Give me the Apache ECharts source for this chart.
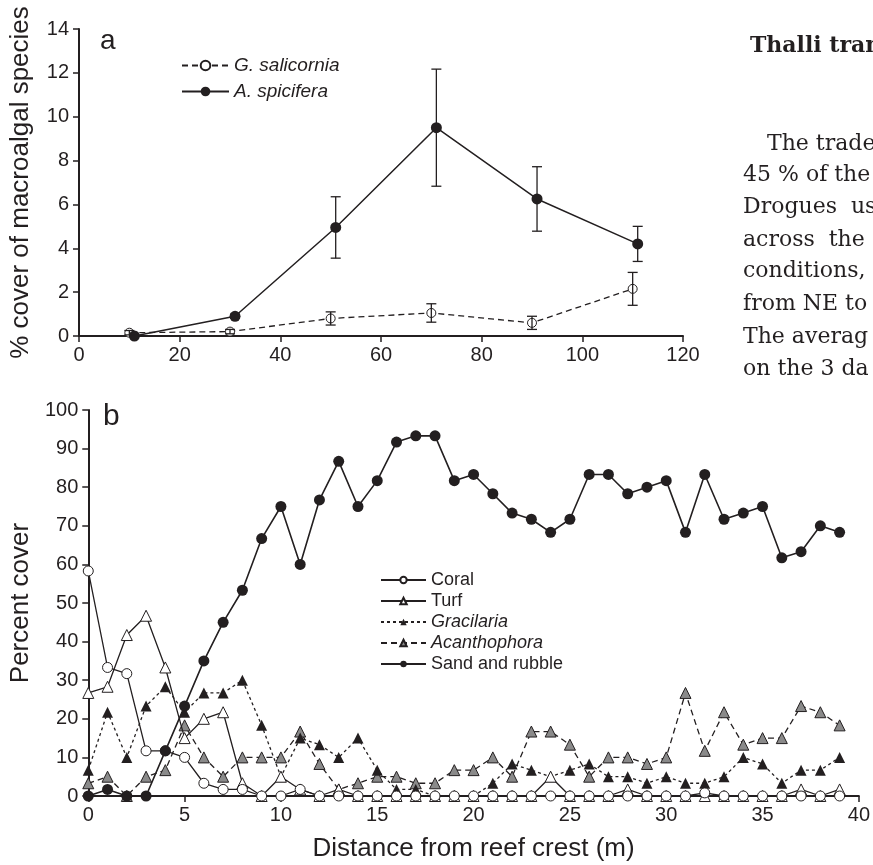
<!DOCTYPE html>
<html>
<head>
<meta charset="utf-8">
<script src="https://cdn.jsdelivr.net/npm/echarts@6/dist/echarts.min.js"></script>
<style>
html,body{margin:0;padding:0;background:#fff;}
#chart{width:873px;height:865px;}
</style>
</head>
<body>
<div id="chart"></div>
<script>
// ---- Panel a data ----
const xGsal = [10, 30, 50, 70, 90, 110];
const gSalicornia = [0.15, 0.2, 0.8, 1.05, 0.6, 2.15];
const gSalicorniaSE = [0.1, 0.1, 0.3, 0.42, 0.3, 0.75];
const xAspi = [11, 31, 51, 71, 91, 111];
const aSpicifera = [0, 0.9, 4.95, 9.5, 6.25, 4.2];
const aSpiciferaSE = [0, 0.1, 1.4, 2.67, 1.47, 0.8];

// ---- Panel b data ----
const distance = [0,1,2,3,4,5,6,7,8,9,10,11,12,13,14,15,16,17,18,19,20,21,22,23,24,25,26,27,28,29,30,31,32,33,34,35,36,37,38,39];
const coral = [58.3,33.3,31.7,11.7,11.7,10,3.3,1.7,1.7,0,0,1.7,0,0,0,0,0,0,0,0,0,0,0,0,0,0,0,0,0,0,0,0,0.8,0,0,0,0,0,0,0];
const turf = [26.7,28.3,41.7,46.7,33.3,15,20,21.7,3.3,0,5,1.7,0,1.7,0,0,0,0,0,0,0,0,0,0,5,0,0,0,1.7,0,0,0,0,0,0,0,0,1.7,0,1.7];
const gracilaria = [6.7,21.7,10,23.3,28.3,21.7,26.7,26.7,30,18.3,5,15,13.3,10,15,6.7,1.7,1.7,0,0,0,3.3,8.3,6.7,5,6.7,8.3,5,5,3.3,5,3.3,3.3,5,10,8.3,3.3,6.7,6.7,10];
const acanthophora = [3.3,5,0,5,6.7,18.3,10,5,10,10,10,16.7,8.3,1.7,3.3,5,5,3.3,3.3,6.7,6.7,10,5,16.7,16.7,13.3,5,10,10,8.3,10,26.7,11.7,21.7,13.3,15,15,23.3,21.7,18.3];
const sandRubble = [0,1.7,0,0,11.7,23.3,35,45,53.3,66.7,75,60,76.7,86.7,75,81.7,91.7,93.3,93.3,81.7,83.3,78.3,73.3,71.7,68.3,71.7,83.3,83.3,78.3,80,81.7,68.3,83.3,71.7,73.3,75,61.7,63.3,70,68.3];

// ---- Side text ----
const sideHeading = 'Thalli tran';
const sideLines = ['The trade', '45 % of the t', 'Drogues  us', 'across  the', 'conditions,', 'from NE to', 'The averag', 'on the 3 da'];

const ink = '#231f20';
const sans = '"Liberation Sans", Arial, Helvetica, sans-serif';
const serif = '"DejaVu Serif", serif';

const pairs = (xs, ys) => xs.map((x, i) => [x, ys[i]]);
const errData = (xs, ys, es) => xs.map((x, i) => [x, ys[i] - es[i], ys[i] + es[i]]).filter((d, i) => es[i] > 0);

function errRender(params, api) {
  const x = api.value(0);
  const p1 = api.coord([x, api.value(1)]);
  const p2 = api.coord([x, api.value(2)]);
  const w = 5;
  const st = {stroke: ink, lineWidth: 1.3};
  return {type: 'group', children: [
    {type: 'line', shape: {x1: p1[0], y1: p1[1], x2: p2[0], y2: p2[1]}, style: st},
    {type: 'line', shape: {x1: p1[0] - w, y1: p1[1], x2: p1[0] + w, y2: p1[1]}, style: st},
    {type: 'line', shape: {x1: p2[0] - w, y1: p2[1], x2: p2[0] + w, y2: p2[1]}, style: st}
  ]};
}

const axisCommon = {
  axisLine: {show: true, onZero: false, lineStyle: {color: ink, width: 2}},
  axisTick: {show: true, length: 6, lineStyle: {color: ink, width: 1.5}},
  splitLine: {show: false},
  axisLabel: {color: ink, fontSize: 20, fontFamily: sans}
};

const chart = echarts.init(document.getElementById('chart'), null, {renderer: 'canvas'});

const graphicEls = [
  {type: 'text', left: 100, top: 27, style: {text: 'a', font: '28px ' + sans, fill: ink}},
  {type: 'text', left: 103, top: 402, style: {text: 'b', font: '30px ' + sans, fill: ink}},
  {type: 'text', x: 750, y: 46, style: {text: sideHeading, font: 'bold 22px ' + serif, fill: ink, verticalAlign: 'middle'}}
];
const lineY = [144, 175, 207, 240, 271, 304, 337, 369];
sideLines.forEach((t, i) => {
  graphicEls.push({type: 'text', x: i === 0 ? 767 : 743, y: lineY[i],
    style: {text: t, font: '22px ' + serif, fill: ink, verticalAlign: 'middle'}});
});

const openStyle = {color: '#ffffff', borderColor: ink, borderWidth: 1};

const option = {
  animation: false,
  backgroundColor: '#ffffff',
  grid: [
    {left: 76, top: 29, width: 607, height: 307},
    {left: 78, top: 410, width: 782, height: 386}
  ],
  xAxis: [
    Object.assign({}, axisCommon, {gridIndex: 0, type: 'value', min: 0, max: 120, interval: 20,
      axisLabel: Object.assign({}, axisCommon.axisLabel, {margin: 9})}),
    Object.assign({}, axisCommon, {gridIndex: 1, type: 'value', min: 0, max: 40, interval: 5,
      axisLabel: Object.assign({}, axisCommon.axisLabel, {margin: 9}),
      name: 'Distance from reef crest (m)', nameLocation: 'middle', nameGap: 40,
      nameTextStyle: {color: ink, fontSize: 26, fontFamily: sans}})
  ],
  yAxis: [
    Object.assign({}, axisCommon, {gridIndex: 0, type: 'value', min: 0, max: 14, interval: 2,
      axisLabel: Object.assign({}, axisCommon.axisLabel, {margin: 10}),
      name: '% cover of macroalgal species', nameLocation: 'middle', nameGap: 45,
      nameTextStyle: {color: ink, fontSize: 26, fontFamily: sans}}),
    Object.assign({}, axisCommon, {gridIndex: 1, type: 'value', min: 0, max: 100, interval: 10,
      axisLabel: Object.assign({}, axisCommon.axisLabel, {margin: 10}),
      name: 'Percent cover', nameLocation: 'middle', nameGap: 45,
      nameTextStyle: {color: ink, fontSize: 26, fontFamily: sans}})
  ],
  legend: [
    {left: 181, top: 56, padding: 0, orient: 'vertical', itemWidth: 47, itemHeight: 12, itemGap: 7,
      data: ['G. salicornia', 'A. spicifera'],
      textStyle: {fontSize: 19, fontStyle: 'italic', color: ink, fontFamily: sans}},
    {left: 380, top: 571, padding: 0, orient: 'vertical', itemWidth: 45, itemHeight: 8, itemGap: 3,
      data: ['Coral', 'Turf', {name: 'Gracilaria', textStyle: {fontStyle: 'italic'}},
             {name: 'Acanthophora', textStyle: {fontStyle: 'italic'}}, 'Sand and rubble'],
      textStyle: {fontSize: 18, color: ink, fontFamily: sans}}
  ],
  graphic: graphicEls,
  series: [
    {name: 'G. salicornia', type: 'line', xAxisIndex: 0, yAxisIndex: 0, data: pairs(xGsal, gSalicornia),
      symbol: 'circle', symbolSize: 9, z: 3,
      lineStyle: {color: ink, width: 1.3, type: [6, 4]}, itemStyle: openStyle},
    {name: 'A. spicifera', type: 'line', xAxisIndex: 0, yAxisIndex: 0, data: pairs(xAspi, aSpicifera),
      symbol: 'circle', symbolSize: 11, z: 3,
      lineStyle: {color: ink, width: 1.5}, itemStyle: {color: ink}},
    {name: 'errG', type: 'custom', xAxisIndex: 0, yAxisIndex: 0, renderItem: errRender,
      data: errData(xGsal, gSalicornia, gSalicorniaSE), z: 5, silent: true},
    {name: 'errA', type: 'custom', xAxisIndex: 0, yAxisIndex: 0, renderItem: errRender,
      data: errData(xAspi, aSpicifera, aSpiciferaSE), z: 5, silent: true},

    {name: 'Acanthophora', type: 'line', xAxisIndex: 1, yAxisIndex: 1, data: pairs(distance, acanthophora),
      symbol: 'triangle', symbolSize: 11, z: 3,
      lineStyle: {color: ink, width: 1.3, type: [6, 4]},
      itemStyle: {color: '#8a8a8a', borderColor: ink, borderWidth: 1}},
    {name: 'Gracilaria', type: 'line', xAxisIndex: 1, yAxisIndex: 1, data: pairs(distance, gracilaria),
      symbol: 'triangle', symbolSize: 11, z: 3,
      lineStyle: {color: ink, width: 1.3, type: [3, 3]}, itemStyle: {color: ink}},
    {name: 'Turf', type: 'line', xAxisIndex: 1, yAxisIndex: 1, data: pairs(distance, turf),
      symbol: 'triangle', symbolSize: 11, z: 4,
      lineStyle: {color: ink, width: 1.3}, itemStyle: openStyle},
    {name: 'Coral', type: 'line', xAxisIndex: 1, yAxisIndex: 1, data: pairs(distance, coral),
      symbol: 'circle', symbolSize: 10, z: 4,
      lineStyle: {color: ink, width: 1.3}, itemStyle: openStyle},
    {name: 'Sand and rubble', type: 'line', xAxisIndex: 1, yAxisIndex: 1, data: pairs(distance, sandRubble),
      symbol: 'circle', symbolSize: 11, z: 5,
      lineStyle: {color: ink, width: 1.6}, itemStyle: {color: ink}}
  ]
};
chart.setOption(option);
</script>
</body>
</html>
